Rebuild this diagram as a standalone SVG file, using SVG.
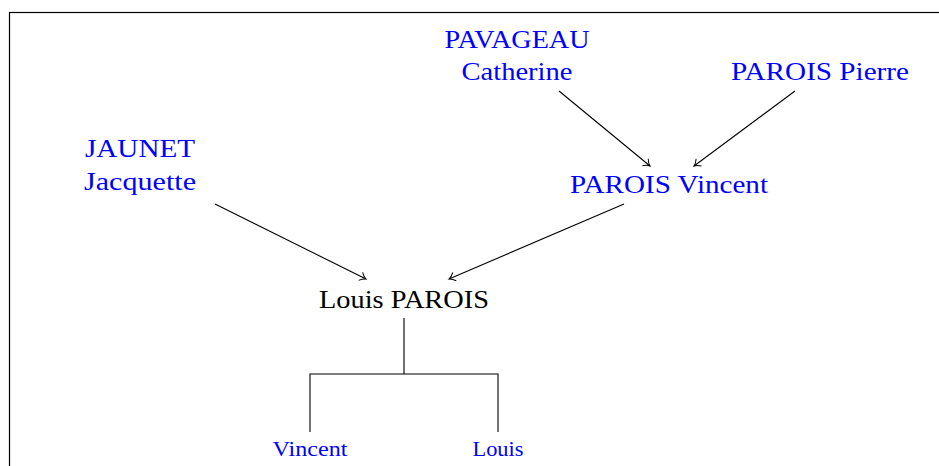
<svg xmlns="http://www.w3.org/2000/svg" width="939" height="466" viewBox="0 0 939 466">
<style>
text{font-family:"Liberation Serif","DejaVu Serif",serif;text-anchor:middle}
.b{fill:#0000ff;font-size:26px}
.k{fill:#000;font-size:26px}
.s{fill:#0000ff;font-size:20px}
.c{stroke:#000;stroke-width:1.1;fill:none}
</style>
<defs>
<marker id="ar" markerWidth="12" markerHeight="12" refX="9" refY="6" orient="auto" markerUnits="userSpaceOnUse">
<path d="M3,1.5 Q6,5 9,6 Q6,7 3,10.5" fill="none" stroke="#000" stroke-width="1"/>
</marker>
</defs>
<rect x="9.5" y="12.5" width="940" height="470" fill="#fff" stroke="#000" stroke-width="1.2"/>
<g id="n-pavageau"><text class="b" x="517" y="48" textLength="145" lengthAdjust="spacingAndGlyphs">PAVAGEAU</text><text class="b" x="517" y="80" textLength="111" lengthAdjust="spacingAndGlyphs">Catherine</text></g>
<g id="n-pierre"><text class="b" x="820" y="80" textLength="178" lengthAdjust="spacingAndGlyphs">PAROIS Pierre</text></g>
<g id="n-jaunet"><text class="b" x="140" y="157" textLength="110" lengthAdjust="spacingAndGlyphs">JAUNET</text><text class="b" x="140" y="190" textLength="112" lengthAdjust="spacingAndGlyphs">Jacquette</text></g>
<g id="n-vincent-p"><text class="b" x="669" y="193" textLength="198" lengthAdjust="spacingAndGlyphs">PAROIS Vincent</text></g>
<g id="n-louis-p"><text class="k" x="404" y="308" textLength="170" lengthAdjust="spacingAndGlyphs">Louis PAROIS</text></g>
<g id="n-vincent"><text class="s" x="310" y="456" textLength="75" lengthAdjust="spacingAndGlyphs">Vincent</text></g>
<g id="n-louis"><text class="s" x="498" y="456" textLength="51" lengthAdjust="spacingAndGlyphs">Louis</text></g>
<g id="connectors" class="c">
<line x1="559" y1="91" x2="650" y2="166" marker-end="url(#ar)"/>
<line x1="795" y1="91" x2="694" y2="166" marker-end="url(#ar)"/>
<line x1="215" y1="204" x2="366" y2="279" marker-end="url(#ar)"/>
<line x1="624" y1="204" x2="449" y2="279" marker-end="url(#ar)"/>
<path d="M404,318 V374 M310,432 V374 H498 V432"/>
</g>
</svg>
